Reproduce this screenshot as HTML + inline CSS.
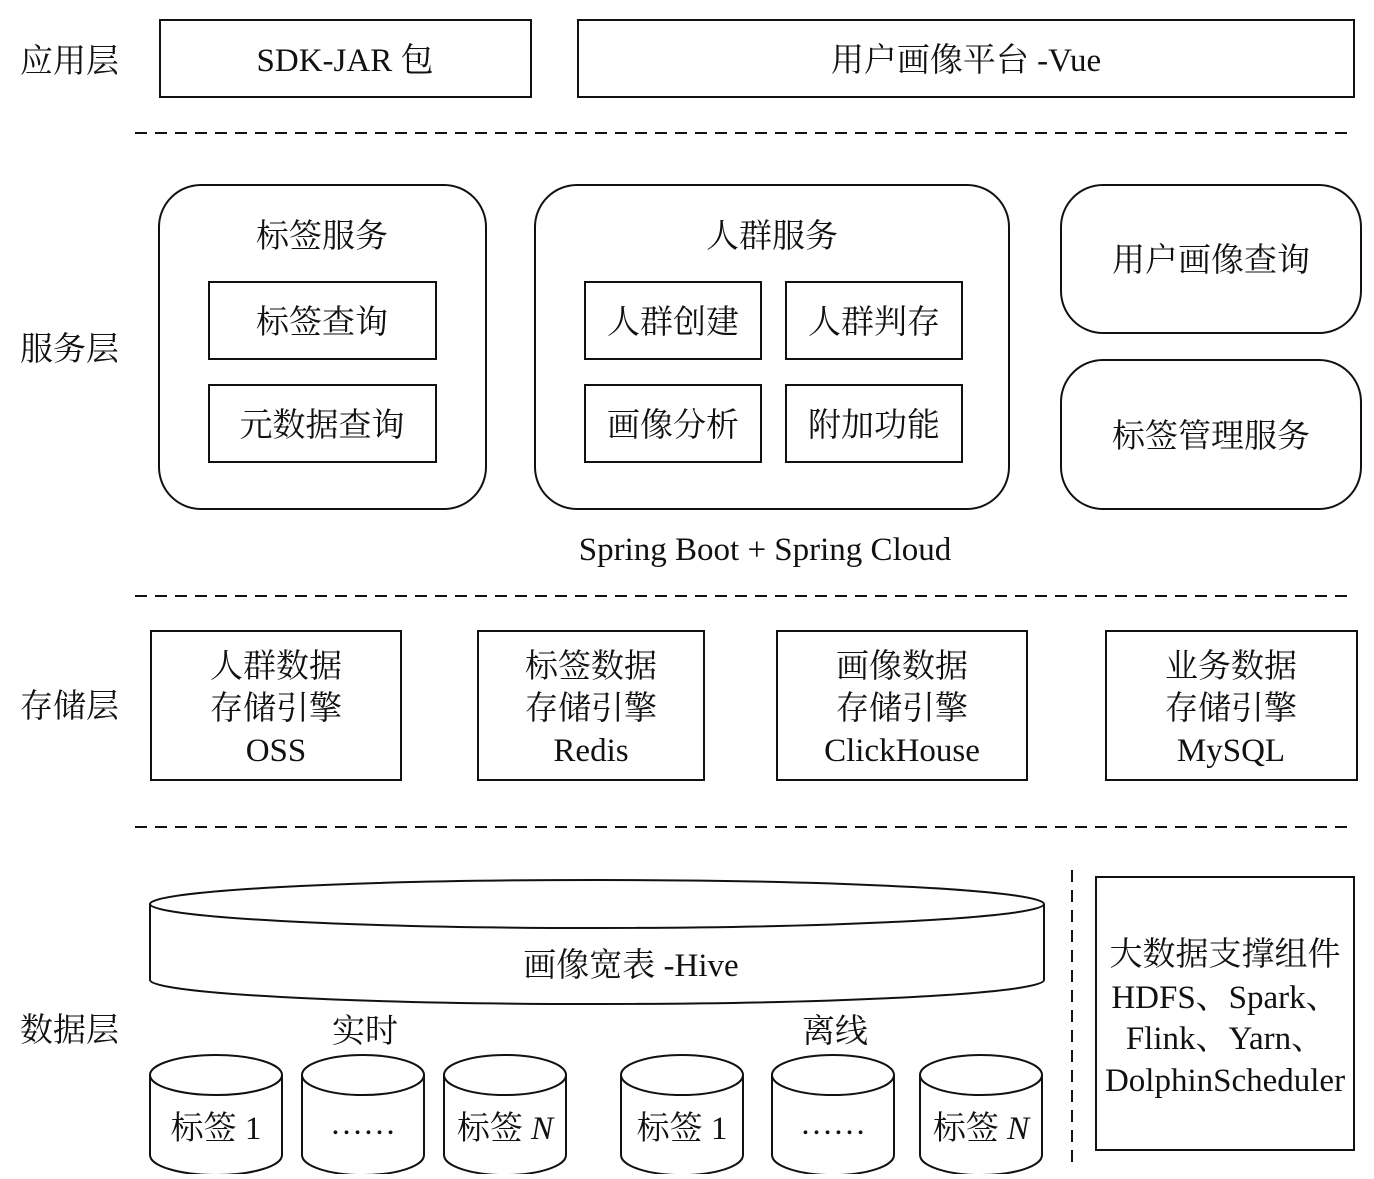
<!DOCTYPE html>
<html><head><meta charset="utf-8"><style>
html,body{margin:0;padding:0;background:#fff;}
text{font-family:"Liberation Serif","Noto Serif CJK SC",serif;fill:#111;}
</style></head><body>
<svg width="1374" height="1174" viewBox="0 0 1374 1174" xmlns="http://www.w3.org/2000/svg">
<g fill="none" stroke="#111" stroke-width="2">
<rect x="160" y="20" width="371" height="77"/>
<rect x="578" y="20" width="776" height="77"/>
<g stroke-dasharray="12,8"><line x1="135" y1="133" x2="1350" y2="133"/><line x1="135" y1="596" x2="1350" y2="596"/><line x1="135" y1="827" x2="1350" y2="827"/><line x1="1072" y1="870" x2="1072" y2="1162"/></g>
<rect x="159" y="185" width="327" height="324" rx="42"/>
<rect x="535" y="185" width="474" height="324" rx="42"/>
<rect x="1061" y="185" width="300" height="148" rx="42"/>
<rect x="1061" y="360" width="300" height="149" rx="42"/>
<rect x="209" y="282" width="227" height="77"/>
<rect x="209" y="385" width="227" height="77"/>
<rect x="585" y="282" width="176" height="77"/>
<rect x="786" y="282" width="176" height="77"/>
<rect x="585" y="385" width="176" height="77"/>
<rect x="786" y="385" width="176" height="77"/>
<rect x="151" y="631" width="250" height="149"/>
<rect x="478" y="631" width="226" height="149"/>
<rect x="777" y="631" width="250" height="149"/>
<rect x="1106" y="631" width="251" height="149"/>
<rect x="1096" y="877" width="258" height="273"/>
<ellipse cx="597" cy="904" rx="447" ry="24"/>
<path d="M150 904 V980 A447 24 0 0 0 1044 980 V904"/>
<ellipse cx="216" cy="1075" rx="66" ry="20"/><path d="M150 1075 V1155 A66 20 0 0 0 282 1155 V1075"/>
<ellipse cx="363" cy="1075" rx="61" ry="20"/><path d="M302 1075 V1155 A61 20 0 0 0 424 1155 V1075"/>
<ellipse cx="505" cy="1075" rx="61" ry="20"/><path d="M444 1075 V1155 A61 20 0 0 0 566 1155 V1075"/>
<ellipse cx="682" cy="1075" rx="61" ry="20"/><path d="M621 1075 V1155 A61 20 0 0 0 743 1155 V1075"/>
<ellipse cx="833" cy="1075" rx="61" ry="20"/><path d="M772 1075 V1155 A61 20 0 0 0 894 1155 V1075"/>
<ellipse cx="981" cy="1075" rx="61" ry="20"/><path d="M920 1075 V1155 A61 20 0 0 0 1042 1155 V1075"/>
</g>
<g font-size="33">
<text x="20" y="72">应用层</text>
<text x="20" y="360">服务层</text>
<text x="20" y="717">存储层</text>
<text x="20" y="1041">数据层</text>
</g>
<g font-size="33" text-anchor="middle">
<text x="345" y="71">SDK-JAR 包</text>
<text x="966" y="71">用户画像平台 -Vue</text>
<text x="322" y="247">标签服务</text>
<text x="772" y="247">人群服务</text>
<text x="1211" y="271">用户画像查询</text>
<text x="1211" y="447">标签管理服务</text>
<text x="322" y="333">标签查询</text>
<text x="322" y="436">元数据查询</text>
<text x="673" y="333">人群创建</text>
<text x="874" y="333">人群判存</text>
<text x="673" y="436">画像分析</text>
<text x="874" y="436">附加功能</text>
<text x="765" y="560">Spring Boot + Spring Cloud</text>
<text x="276" y="677">人群数据</text><text x="276" y="719">存储引擎</text><text x="276" y="761">OSS</text>
<text x="591" y="677">标签数据</text><text x="591" y="719">存储引擎</text><text x="591" y="761">Redis</text>
<text x="902" y="677">画像数据</text><text x="902" y="719">存储引擎</text><text x="902" y="761">ClickHouse</text>
<text x="1231" y="677">业务数据</text><text x="1231" y="719">存储引擎</text><text x="1231" y="761">MySQL</text>
<text x="631" y="976">画像宽表 -Hive</text>
<text x="365" y="1042">实时</text>
<text x="835" y="1042">离线</text>
<text x="1225" y="965">大数据支撑组件</text>
<text x="1225" y="1008">HDFS、Spark、</text>
<text x="1225" y="1049">Flink、Yarn、</text>
<text x="1225" y="1091">DolphinScheduler</text>
<text x="216" y="1139">标签 1</text>
<text x="363" y="1134">……</text>
<text x="505" y="1139">标签 <tspan font-style="italic">N</tspan></text>
<text x="682" y="1139">标签 1</text>
<text x="833" y="1134">……</text>
<text x="981" y="1139">标签 <tspan font-style="italic">N</tspan></text>
</g>
</svg>
</body></html>
